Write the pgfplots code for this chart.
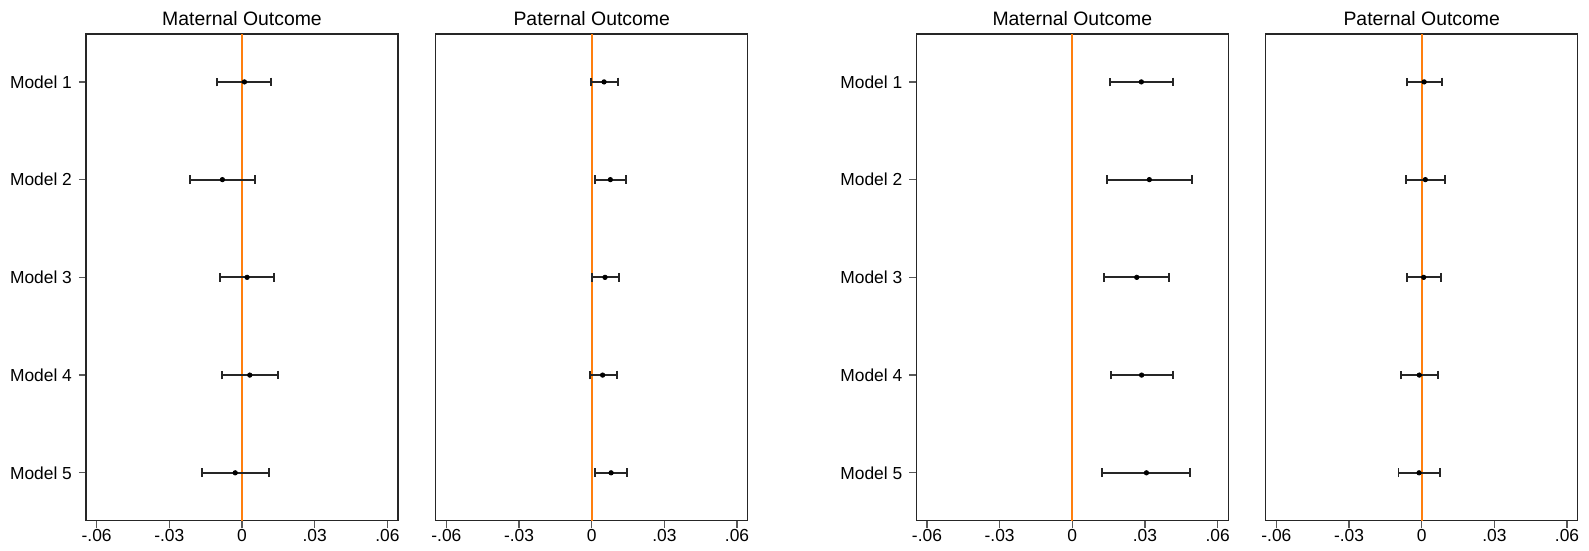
\documentclass[border=0pt]{standalone}
\usepackage{fontspec}
\setmainfont{Liberation Sans}
\usepackage{pgfplots}
\usepackage{pgfplotstable}
\pgfplotsset{compat=1.18}

\definecolor{zeroline}{RGB}{255,127,14}

\pgfplotstableread{
y b lo hi
1 0.0010 -0.0102 0.0121
2 -0.0081 -0.0215 0.0054
3 0.0021 -0.0091 0.0133
4 0.0032 -0.0083 0.0149
5 -0.0028 -0.0166 0.0110
}\tA
\pgfplotstableread{
y b lo hi
1 0.0051 -0.0004 0.0107
2 0.0077 0.0015 0.0141
3 0.0055 0.0000 0.0111
4 0.0045 -0.0008 0.0103
5 0.0080 0.0014 0.0145
}\tB
\pgfplotstableread{
y b lo hi
1 0.0285 0.0156 0.0417
2 0.0318 0.0142 0.0493
3 0.0266 0.0131 0.0398
4 0.0286 0.0159 0.0416
5 0.0306 0.0124 0.0486
}\tC
\pgfplotstableread{
y b lo hi
1 0.0010 -0.0062 0.0084
2 0.0015 -0.0066 0.0097
3 0.0008 -0.0062 0.0081
4 -0.0010 -0.0085 0.0068
5 -0.0011 -0.0096 0.0077
}\tD

\pgfplotsset{
  panel/.style={
    scale only axis,
    width=156pt, height=243.35pt,
    anchor=south west,
    xmin=-0.0644, xmax=0.0644,
    ymin=0.51, ymax=5.49,
    y dir=reverse,
    axis line style={line width=0.65pt, black!85},
    scaled x ticks=false,
    xtick={-0.06,-0.03,0,0.03,0.06},
    xticklabels={-.06,-.03,0,.03,.06},
    xtick pos=bottom,
    ytick pos=left,
    tick align=outside,
    major tick length=3.5pt,
    major tick style={line width=0.65pt, black!65},
    ticklabel style={font=\fontsize{8.7}{10}\selectfont},
    xticklabel style={anchor=north, inner sep=0pt, text height=6.3pt, text depth=0pt, yshift=-0.6pt},
    /pgf/number format/assume math mode=true,
    every axis title shift=0pt,
    title style={at={(0.5,1)}, anchor=base, yshift=4.5pt, font=\fontsize{9.7}{11}\selectfont},
    clip=false,
  },
  withlabels/.style={
    ytick={1,2,3,4,5},
    yticklabels={Model 1,Model 2,Model 3,Model 4,Model 5},
  },
  nolabels/.style={
    ytick=\empty,
  },
  ci/.style={
    only marks, mark=*, mark size=1.1pt, black,
    error bars/.cd, x dir=both, x explicit,
    error mark=|,
    error bar style={line width=0.9pt, black!85},
    error mark options={line width=0.9pt, mark size=2.2pt, black!85},
  },
}

\newcommand{\ciplot}[1]{%
  \addplot[zeroline, line width=1pt] coordinates {(0,0.51) (0,5.49)};
  \addplot[ci] table[x=b, y=y,
     x error plus expr=\thisrow{hi}-\thisrow{b},
     x error minus expr=\thisrow{b}-\thisrow{lo}] {#1};
}

\begin{document}
\begin{tikzpicture}
\path[use as bounding box] (0,0) rectangle (794.5pt,-275.5pt);
\begin{axis}[panel, withlabels, at={(43pt,-260.35pt)}, title={Maternal Outcome}]
\ciplot{\tA}
\end{axis}
\begin{axis}[panel, nolabels, at={(217.85pt,-260.35pt)}, title={Paternal Outcome}]
\ciplot{\tB}
\end{axis}
\begin{axis}[panel, withlabels, at={(458.15pt,-260.35pt)}, title={Maternal Outcome}]
\ciplot{\tC}
\end{axis}
\begin{axis}[panel, nolabels, at={(632.85pt,-260.35pt)}, title={Paternal Outcome}]
\ciplot{\tD}
\end{axis}
\end{tikzpicture}
\end{document}
